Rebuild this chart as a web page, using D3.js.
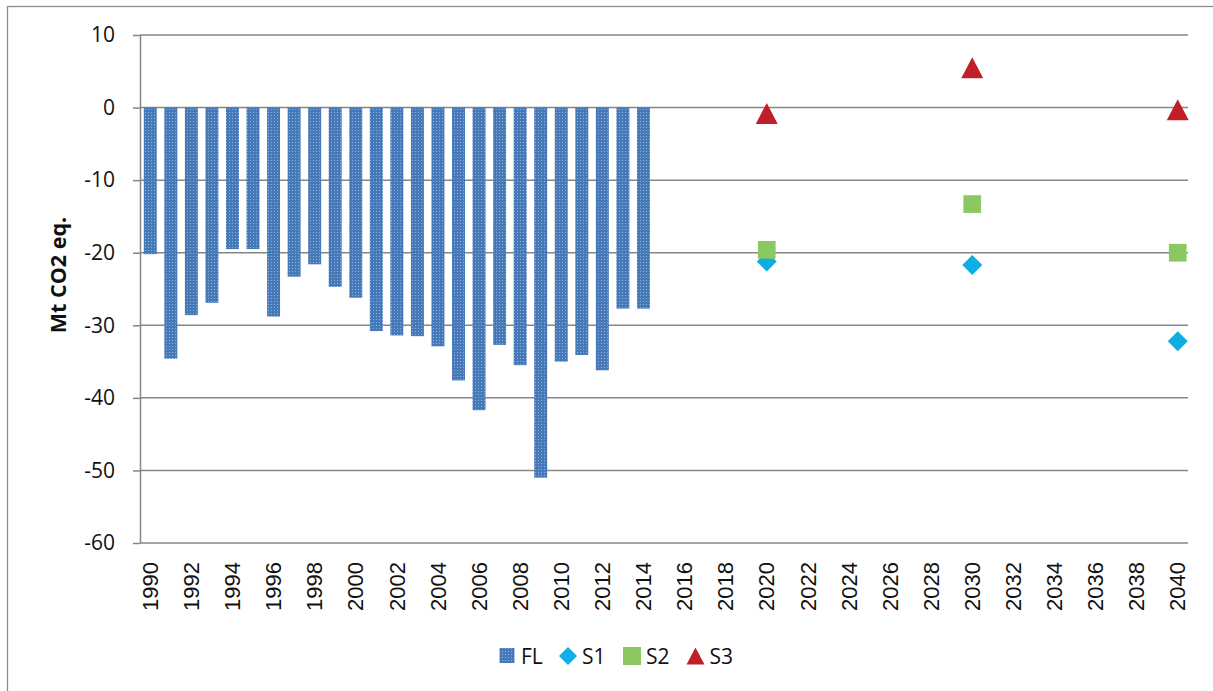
<!DOCTYPE html>
<html>
<head>
<meta charset="utf-8">
<script src="https://cdn.jsdelivr.net/npm/d3@7"></script>
<style>
  body { margin: 0; background: #fff; }
  svg { display: block; }
</style>
</head>
<body>
<svg id="chart" width="1213" height="691"></svg>
<script>
// categories on the x axis (one per year)
const years = [1990, 1991, 1992, 1993, 1994, 1995, 1996, 1997, 1998, 1999,
    2000, 2001, 2002, 2003, 2004, 2005, 2006, 2007, 2008, 2009,
    2010, 2011, 2012, 2013, 2014, 2015, 2016, 2017, 2018, 2019,
    2020, 2021, 2022, 2023, 2024, 2025, 2026, 2027, 2028, 2029,
    2030, 2031, 2032, 2033, 2034, 2035, 2036, 2037, 2038, 2039, 2040];

// FL bars (historic)
const flYears = [1990, 1991, 1992, 1993, 1994, 1995, 1996, 1997, 1998, 1999,
    2000, 2001, 2002, 2003, 2004, 2005, 2006, 2007, 2008, 2009,
    2010, 2011, 2012, 2013, 2014];
const flValues = [-20.2, -34.6, -28.6, -26.9, -19.5, -19.5, -28.8, -23.3, -21.6, -24.7,
    -26.2, -30.8, -31.4, -31.5, -32.9, -37.6, -41.7, -32.7, -35.5, -51.0,
    -35.0, -34.1, -36.2, -27.7, -27.7];

// scenario markers
const scenarioYears = [2020, 2030, 2040];
const s1Values = [-21.2, -21.7, -32.2];
const s2Values = [-19.6, -13.3, -20.0];
const s3Values = [-0.8, 5.5, -0.3];

const yTicks = [10, 0, -10, -20, -30, -40, -50, -60];
const xTickLabels = years.filter((yr, i) => i % 2 === 0);

const svg = d3.select("#chart");

// outer chart frame
svg.append("rect")
    .attr("x", 7.5).attr("y", 6.5)
    .attr("width", 1300).attr("height", 800)
    .attr("fill", "none")
    .attr("stroke", "#8c8c8c")
    .attr("stroke-width", 1.3);

const plotLeft = 140, plotRight = 1188, plotTop = 35, plotBottom = 543;

const x = d3.scaleBand()
    .domain(years)
    .range([plotLeft, plotRight])
    .paddingInner(0.37)
    .paddingOuter(0.185);

const y = d3.scaleLinear()
    .domain([-60, 10])
    .range([plotBottom, plotTop]);

const cx = d => x(d) + x.bandwidth() / 2;

// dotted fill used by Excel for the FL bars
const defs = svg.append("defs");
const pat = defs.append("pattern")
    .attr("id", "dots")
    .attr("patternUnits", "userSpaceOnUse")
    .attr("width", 3).attr("height", 3);
pat.append("rect").attr("width", 3).attr("height", 3).attr("fill", "#4679b8");
pat.append("rect").attr("x", 1).attr("y", 1).attr("width", 1).attr("height", 1).attr("fill", "#8eaedb");

// gridlines
svg.append("g")
    .selectAll("line")
    .data(yTicks)
    .join("line")
    .attr("x1", plotLeft).attr("x2", plotRight)
    .attr("y1", d => y(d)).attr("y2", d => y(d))
    .attr("stroke", "#868686")
    .attr("stroke-width", 1.5);

// y axis (plain hyphen for negatives, like the original)
const yAxis = svg.append("g")
    .attr("transform", `translate(${plotLeft},0)`)
    .call(d3.axisLeft(y).tickValues(yTicks).tickFormat(d => String(d))
        .tickSize(7).tickPadding(18).tickSizeOuter(0));
yAxis.select(".domain").attr("stroke", "#868686").attr("stroke-width", 1.5);
yAxis.selectAll(".tick line").attr("stroke", "#868686").attr("stroke-width", 1.5);
yAxis.selectAll("text")
    .attr("fill", "#111")
    .style("font-family", "'Open Sans', sans-serif")
    .style("font-size", "21px");

// x axis labels (rotated)
const xAxis = svg.append("g")
    .attr("transform", `translate(0,${plotBottom})`)
    .call(d3.axisBottom(x).tickValues(xTickLabels).tickSize(0).tickPadding(0));
xAxis.select(".domain").remove();
xAxis.selectAll("text")
    .attr("fill", "#111")
    .attr("transform", "rotate(-90)")
    .attr("x", -19)
    .attr("y", 0)
    .attr("dy", "0.35em")
    .attr("text-anchor", "end")
    .style("font-family", "'Liberation Sans', Arial, sans-serif")
    .style("font-size", "22px");

// axis title
svg.append("text")
    .attr("transform", `translate(66,275) rotate(-90)`)
    .attr("text-anchor", "middle")
    .attr("fill", "#111")
    .style("font-family", "'Open Sans', sans-serif")
    .style("font-weight", "bold")
    .style("font-size", "21.5px")
    .text("Mt CO2 eq.");

// FL bars
svg.append("g")
    .selectAll("rect")
    .data(flYears)
    .join("rect")
    .attr("x", d => x(d))
    .attr("width", x.bandwidth())
    .attr("y", y(0))
    .attr("height", (d, i) => y(flValues[i]) - y(0))
    .attr("fill", "url(#dots)");

const sq = d3.symbol().type(d3.symbolSquare);

// S1 diamonds
svg.append("g")
    .selectAll("path")
    .data(scenarioYears)
    .join("path")
    .attr("d", sq.size(200)())
    .attr("transform", (d, i) => `translate(${cx(d)},${y(s1Values[i])}) rotate(45)`)
    .attr("fill", "#0eade4");

// S2 squares
svg.append("g")
    .selectAll("path")
    .data(scenarioYears)
    .join("path")
    .attr("d", sq.size(313)())
    .attr("transform", (d, i) => `translate(${cx(d)},${y(s2Values[i])})`)
    .attr("fill", "#8bc862");

// S3 triangles, centred on their bounding box
const tri = (w, h) => `M0,${-h / 2}L${w / 2},${h / 2}L${-w / 2},${h / 2}Z`;
svg.append("g")
    .selectAll("path")
    .data(scenarioYears)
    .join("path")
    .attr("d", tri(22, 21))
    .attr("transform", (d, i) => `translate(${cx(d)},${y(s3Values[i])})`)
    .attr("fill", "#c01f28");

// legend
const legend = svg.append("g").attr("transform", "translate(0,656)");
const legendItems = [
    { name: "FL", x: 507 },
    { name: "S1", x: 568 },
    { name: "S2", x: 632 },
    { name: "S3", x: 695.5 }
];
legendItems.forEach(item => {
    const g = legend.append("g").attr("transform", `translate(${item.x},0)`);
    if (item.name === "FL") {
        g.append("rect").attr("x", -7.5).attr("y", -8).attr("width", 15).attr("height", 15).attr("fill", "url(#dots)");
    } else if (item.name === "S1") {
        g.append("path").attr("d", sq.size(162)()).attr("transform", "rotate(45)").attr("fill", "#0eade4");
    } else if (item.name === "S2") {
        g.append("rect").attr("x", -9).attr("y", -9).attr("width", 18).attr("height", 18).attr("fill", "#8bc862");
    } else {
        g.append("path").attr("d", tri(18, 17)).attr("fill", "#c01f28");
    }
    g.append("text")
        .attr("x", 14)
        .attr("dy", "0.36em")
        .attr("fill", "#111")
        .style("font-family", "'Open Sans', sans-serif")
        .style("font-size", "21px")
        .text(item.name);
});
</script>
</body>
</html>
